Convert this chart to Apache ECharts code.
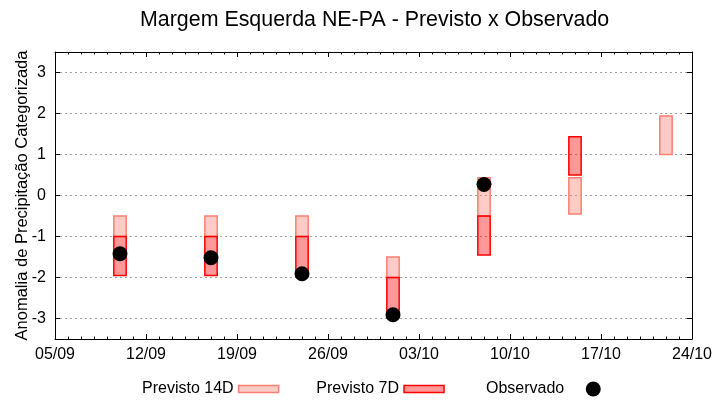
<!DOCTYPE html>
<html><head><meta charset="utf-8">
<script src="https://cdn.jsdelivr.net/npm/echarts@6/dist/echarts.min.js"></script>
<style>html,body{margin:0;padding:0;background:#fff}#c{width:720px;height:400px}</style>
</head><body><div id="c"></div>
<script>
// ---- data ----
const startDate = '05/09';
const tickLabels = ['05/09','12/09','19/09','26/09','03/10','10/10','17/10','24/10'];
const dates14D = ['10/09','17/09','24/09','01/10','08/10','15/10','22/10'];
const low14D  = [-1.0, -1.0, -1.0, -2.0, -0.5, -0.45, 1.0];
const high14D = [-0.5, -0.5, -0.5, -1.5, 0.43, 0.43, 1.94];
const dates7D = ['10/09','17/09','24/09','01/10','08/10','15/10'];
const low7D  = [-1.95, -1.95, -1.9, -2.9, -1.45, 0.5];
const high7D = [-1.0, -1.0, -1.0, -2.0, -0.5, 1.43];
const datesObs  = ['10/09','17/09','24/09','01/10','08/10'];
const valuesObs = [-1.42, -1.52, -1.91, -2.91, 0.27];

function dayIndex(s) {
  const [d, m] = s.split('/').map(Number);
  const [d0, m0] = startDate.split('/').map(Number);
  return Math.round((Date.UTC(2023, m - 1, d) - Date.UTC(2023, m0 - 1, d0)) / 86400000);
}
const totalDays = dayIndex(tickLabels[tickLabels.length - 1]);

const FONT = 'Liberation Sans, Arial, sans-serif';
const c14 = {fill: 'rgba(250,128,114,0.4)', stroke: '#fa8072'};
const c7 = {fill: 'rgba(255,0,0,0.4)', stroke: '#ff0000'};

function boxRenderer(col) {
  return function (params, api) {
    const x = api.value(0), lo = api.value(1), hi = api.value(2);
    const pTop = api.coord([x, hi]);
    const pBot = api.coord([x, lo]);
    const w = api.size([0.95, 0])[0];
    return {
      type: 'rect',
      shape: {x: pTop[0] - w / 2, y: pTop[1], width: w, height: pBot[1] - pTop[1]},
      style: {fill: col.fill, stroke: col.stroke, lineWidth: 1.5}
    };
  };
}

const baseX = {
  type: 'value', min: 0, max: totalDays, interval: 7,
  axisLine: {show: true, onZero: false, lineStyle: {color: '#000', width: 1}},
  axisTick: {show: true, inside: true, length: 5, lineStyle: {color: '#000'}},
  minorTick: {show: true, splitNumber: 7, length: 2.5, lineStyle: {color: '#000'}},
  splitLine: {show: false}
};
const baseY = {
  type: 'value', min: -3.5, max: 3.5, splitNumber: 7,
  axisLine: {show: true, onZero: false, lineStyle: {color: '#000', width: 1}},
  axisTick: {show: true, inside: true, length: 5, lineStyle: {color: '#000'}}
};

const chart = echarts.init(document.getElementById('c'), null, {renderer: 'canvas'});
chart.setOption({
  animation: false,
  backgroundColor: '#fff',
  textStyle: {fontFamily: FONT},
  title: {
    text: 'Margem Esquerda NE-PA - Previsto x Observado',
    left: 140, top: 10, padding: 0,
    textStyle: {fontFamily: FONT, fontSize: 21.4, fontWeight: 'normal', color: '#000'}
  },
  grid: {left: 55, right: 28, top: 52, bottom: 61, containLabel: false, outerBoundsMode: 'none'},
  legend: [
    {
      left: 142, top: 381, padding: 0, align: 'right', itemGap: 37,
      itemWidth: 40, itemHeight: 7,
      textStyle: {fontFamily: FONT, fontSize: 16, color: '#000'},
      data: [
        {name: 'Previsto 14D', icon: 'rect', itemStyle: {color: c14.fill, borderColor: c14.stroke, borderWidth: 1.5}},
        {name: 'Previsto 7D', icon: 'rect', itemStyle: {color: c7.fill, borderColor: c7.stroke, borderWidth: 1.5}}
      ]
    },
    {
      left: 486, top: 381, padding: 0, align: 'right',
      itemWidth: 48, itemHeight: 15,
      textStyle: {fontFamily: FONT, fontSize: 16, color: '#000'},
      data: [{name: 'Observado', icon: 'circle', itemStyle: {color: '#000'}}]
    }
  ],
  xAxis: [
    Object.assign({}, baseX, {
      position: 'bottom',
      axisLabel: {show: true, margin: 8, fontSize: 16, color: '#000', fontFamily: FONT,
        formatter: v => tickLabels[Math.round(v / 7)] || ''}
    }),
    Object.assign({}, baseX, {position: 'top', axisLabel: {show: false}})
  ],
  yAxis: [
    Object.assign({}, baseY, {
      position: 'left',
      name: 'Anomalia de Precipitação Categorizada',
      nameLocation: 'middle', nameGap: 24, nameMoveOverlap: false,
      nameTextStyle: {fontFamily: FONT, fontSize: 16.5, color: '#000'},
      axisLabel: {show: true, margin: 9, fontSize: 16, color: '#000', fontFamily: FONT,
        showMinLabel: false, showMaxLabel: false,
        formatter: v => (Math.abs(v - Math.round(v)) < 1e-9 ? String(Math.round(v)) : '')},
      splitLine: {show: true, lineStyle: {color: '#a0a0a0', type: [2, 3], width: 1}}
    }),
    Object.assign({}, baseY, {position: 'right', axisLabel: {show: false}, splitLine: {show: false}})
  ],
  series: [
    {
      name: 'Previsto 14D', type: 'custom', xAxisIndex: 0, yAxisIndex: 0, z: 2,
      itemStyle: {color: c14.fill, borderColor: c14.stroke, borderWidth: 1.5},
      renderItem: boxRenderer(c14),
      encode: {x: 0, y: [1, 2]},
      data: dates14D.map((d, i) => [dayIndex(d), low14D[i], high14D[i]])
    },
    {
      name: 'Previsto 7D', type: 'custom', xAxisIndex: 0, yAxisIndex: 0, z: 3,
      itemStyle: {color: c7.fill, borderColor: c7.stroke, borderWidth: 1.5},
      renderItem: boxRenderer(c7),
      encode: {x: 0, y: [1, 2]},
      data: dates7D.map((d, i) => [dayIndex(d), low7D[i], high7D[i]])
    },
    {
      name: 'Observado', type: 'scatter', xAxisIndex: 0, yAxisIndex: 0, z: 4,
      symbol: 'circle', symbolSize: 15,
      itemStyle: {color: '#000', opacity: 1},
      data: datesObs.map((d, i) => [dayIndex(d), valuesObs[i]])
    }
  ]
});
</script>
</body></html>
